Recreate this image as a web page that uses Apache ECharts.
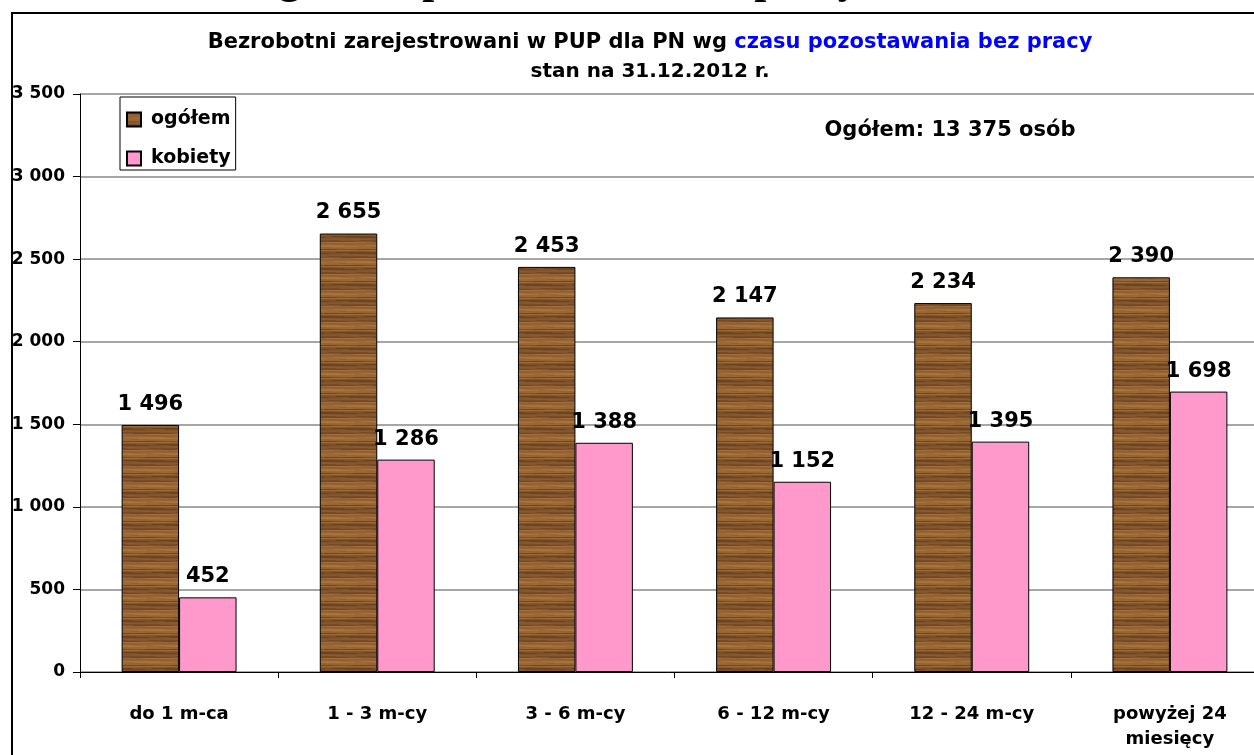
<!DOCTYPE html>
<html>
<head>
<meta charset="utf-8">
<script src="https://cdn.jsdelivr.net/npm/echarts@6/dist/echarts.min.js"></script>
<style>
html,body{margin:0;padding:0;background:#fff;}
#chart{width:1254px;height:755px;}
</style>
</head>
<body>
<div id="chart"></div>
<script>
// ---- data ----
const categories = ['do 1 m-ca', '1 - 3 m-cy', '3 - 6 m-cy', '6 - 12 m-cy', '12 - 24 m-cy', 'powyżej 24\nmiesięcy'];
const ogolem = [1496, 2655, 2453, 2147, 2234, 2390];
const kobiety = [452, 1286, 1388, 1152, 1395, 1698];
const seriesNames = ['ogółem', 'kobiety'];
const totalText = 'Ogółem: 13 375 osób';
const yTicks = [0, 500, 1000, 1500, 2000, 2500, 3000, 3500];

function fmt(v) {
  return String(v).replace(/\B(?=(\d{3})+(?!\d))/g, ' ');
}

// wood-like texture (deterministic stripes)
function woodPattern() {
  const c = document.createElement('canvas');
  c.width = 60; c.height = 48;
  const ctx = c.getContext('2d');
  ctx.fillStyle = '#8d5e30';
  ctx.fillRect(0, 0, 60, 48);
  const shades = ['#6e4522', '#a06c38', '#7b4f26', '#b07a40', '#5c3819', '#93623a', '#a57040', '#6a4220',
                  '#9c6a36', '#845730', '#b37d44', '#5e3a1b', '#9a6634', '#7f5229', '#a87340', '#684020'];
  for (let y = 0; y < 48; y++) {
    const s = shades[(y * 7) % shades.length];
    ctx.fillStyle = s;
    ctx.globalAlpha = 0.55;
    const off = (y * 13) % 60;
    ctx.fillRect(off, y, 40, 1);
    ctx.fillRect(off - 60, y, 40, 1);
    ctx.globalAlpha = 0.35;
    ctx.fillRect(0, y, 60, 1);
  }
  ctx.globalAlpha = 1;
  return c;
}
const wood = woodPattern();

const chart = echarts.init(document.getElementById('chart'), null, {renderer: 'canvas'});
const FONT = '"DejaVu Sans", sans-serif';

chart.setOption({
  animation: false,
  backgroundColor: '#fff',
  title: [{
    left: 645, top: 27, textAlign: 'center',
    text: '{a|Bezrobotni zarejestrowani w PUP dla PN wg }{b|czasu pozostawania bez pracy}',
    textStyle: {
      rich: {
        a: {fontFamily: FONT, fontWeight: 'bold', fontSize: 21, color: '#000'},
        b: {fontFamily: FONT, fontWeight: 'bold', fontSize: 21, color: '#0000ff'}
      }
    }
  }, {
    left: 645, top: 57, textAlign: 'center',
    text: 'stan na 31.12.2012 r.',
    textStyle: {fontFamily: FONT, fontWeight: 'bold', fontSize: 20, color: '#000'}
  }],
  legend: {
    orient: 'vertical', left: 120, top: 97,
    padding: [13, 5, 2, 6], itemGap: 20,
    itemWidth: 14, itemHeight: 14,
    borderColor: '#000', borderWidth: 1, backgroundColor: '#fff',
    textStyle: {fontFamily: FONT, fontWeight: 'bold', fontSize: 19, color: '#000', padding: [0, 0, 0, 5]},
    data: [{name: seriesNames[0], icon: 'rect'}, {name: seriesNames[1], icon: 'rect'}]
  },
  grid: {left: 80, top: 94, width: 1189, bottom: 83, containLabel: false, outerBoundsMode: 'none'},
  xAxis: {
    type: 'category', data: categories, boundaryGap: true,
    axisLine: {lineStyle: {color: '#000', width: 1}},
    axisTick: {show: true, length: 6, lineStyle: {color: '#000'}},
    axisLabel: {margin: 30, fontFamily: FONT, fontWeight: 'bold', fontSize: 18, color: '#000', lineHeight: 25, interval: 0}
  },
  yAxis: {
    type: 'value', min: yTicks[0], max: yTicks[yTicks.length - 1], interval: 500,
    axisLine: {show: true, lineStyle: {color: '#000', width: 1}},
    axisTick: {show: true, length: 7, lineStyle: {color: '#000'}},
    axisLabel: {margin: 15, fontFamily: FONT, fontWeight: 'bold', fontSize: 17, color: '#000', formatter: v => fmt(v)},
    splitLine: {show: true, lineStyle: {color: '#888', width: 1.5}}
  },
  series: [{
    name: seriesNames[0], type: 'bar', data: ogolem,
    barGap: '0%', barCategoryGap: '42%',
    itemStyle: {color: {image: wood, repeat: 'repeat'}, borderColor: '#000', borderWidth: 1},
    label: {show: true, position: 'top', distance: 10, fontFamily: FONT, fontWeight: 'bold', fontSize: 21, color: '#000', formatter: p => fmt(p.value)}
  }, {
    name: seriesNames[1], type: 'bar', data: kobiety,
    barGap: '0%', barCategoryGap: '42%',
    itemStyle: {color: '#ff99cc', borderColor: '#000', borderWidth: 1},
    label: {show: true, position: 'top', distance: 10, fontFamily: FONT, fontWeight: 'bold', fontSize: 21, color: '#000', formatter: p => fmt(p.value)}
  }],
  graphic: [{
    type: 'rect', silent: true,
    shape: {x: 12, y: 13, width: 1262, height: 760},
    style: {fill: 'none', stroke: '#000', lineWidth: 2}
  }, {
    type: 'text', x: 950, y: 131, silent: true,
    style: {text: totalText, fontFamily: FONT, fontWeight: 'bold', fontSize: 21, fill: '#000', align: 'center', verticalAlign: 'middle'}
  }, {
    type: 'text', x: 169, y: 3, silent: true,
    style: {text: 'według czasu pozostawania bez pracy', fontFamily: '"Liberation Serif", "Times New Roman", serif', fontWeight: 'bold', fontSize: 43, fill: '#000', align: 'left', verticalAlign: 'bottom'}
  }]
});
</script>
</body>
</html>
